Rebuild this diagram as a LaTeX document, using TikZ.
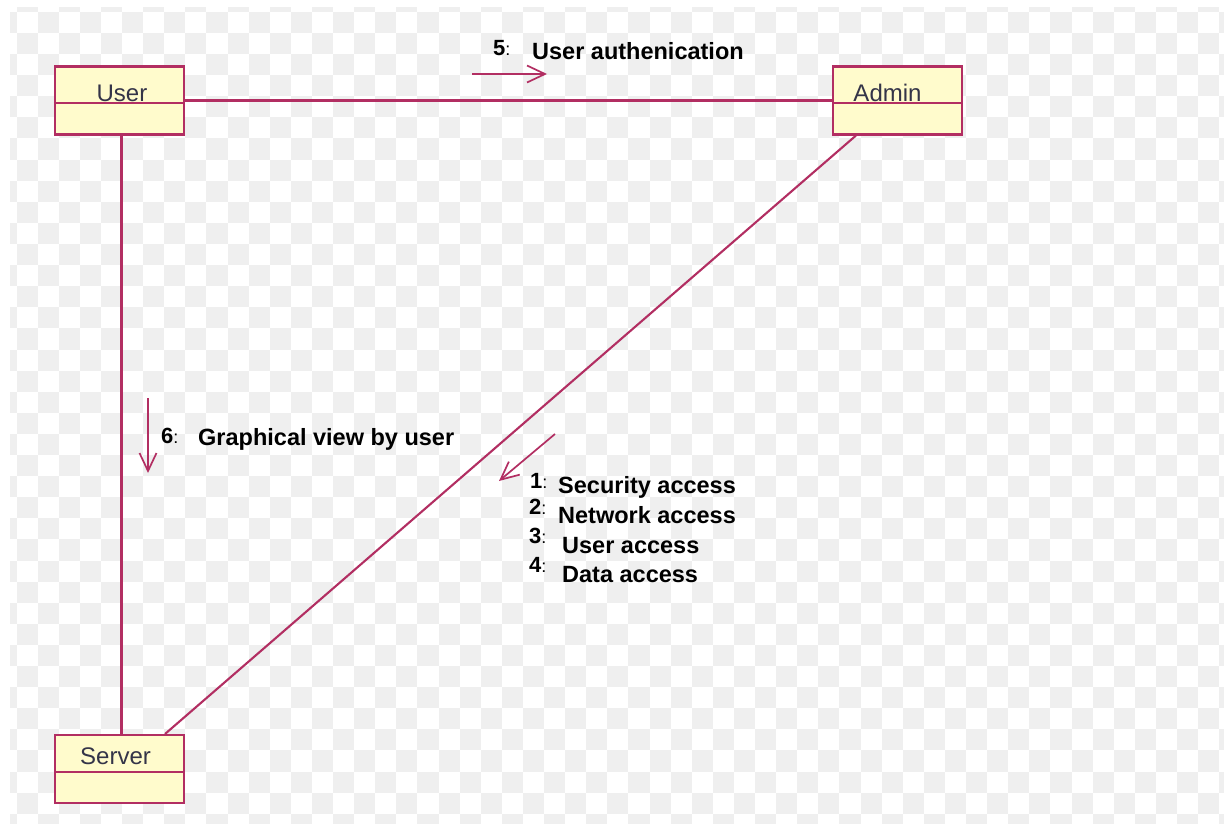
\documentclass[tikz,border=0pt]{standalone}
\usepackage{fontspec}
\setmainfont{Liberation Sans}
\usetikzlibrary{arrows.meta}
\definecolor{umlline}{RGB}{178,46,98}
\definecolor{umlfill}{RGB}{255,251,204}
\definecolor{umltext}{RGB}{52,52,72}
\definecolor{checker}{RGB}{239,239,239}
\newcommand\msgcolon{{\fontsize{18}{20}\selectfont\mdseries:}}
\begin{document}
\begin{tikzpicture}[x=1pt,y=-1pt,
  classbox/.style={rectangle, draw=umlline, fill=umlfill, line width=2.1pt,
    minimum width=129pt, minimum height=68pt, inner sep=0pt},
  divider/.style={draw=umlline, line width=2.1pt},
  classname/.style={font=\fontsize{24}{28}\selectfont, text=umltext, inner sep=0pt, anchor=base},
  link/.style={draw=umlline, line width=2.1pt},
  msgarrow/.style={draw=umlline, line width=1.7pt, -{Straight Barb[length=18pt,width=17pt]}},
  msg/.style={font=\fontsize{23.5}{28}\selectfont\bfseries, inner sep=0pt, anchor=base west},
  seqno/.style={font=\fontsize{22}{24}\selectfont\bfseries, inner sep=0pt, anchor=base west},
]
\useasboundingbox (0,0) rectangle (1224,824);
\fill[white] (0,0) rectangle (1224,824);

% checkered backdrop
\begin{scope}
  \clip (10,8) rectangle (1224,824);
  \foreach \c in {0,...,58}{
    \pgfmathtruncatemacro\roff{1-mod(\c,2)}
    \foreach \k in {0,...,19}{
      \pgfmathsetmacro\xa{-4.6+21.1*\c}
      \pgfmathsetmacro\ya{-9.2+21.1*(2*\k+\roff)}
      \fill[checker] (\xa,\ya) rectangle ++(21.1,21.1);
    }
  }
\end{scope}

% classes
\node[classbox] (user)   at (119.5,100.5) {};
\node[classbox] (admin)  at (897.5,100.5) {};
\node[classbox] (server) at (119.5,769) {};

\draw[divider] ([yshift=-2.5pt]user.west) -- ([yshift=-2.5pt]user.east);
\draw[divider] ([yshift=-2.5pt]admin.west) -- ([yshift=-2.5pt]admin.east);
\draw[divider] ([yshift=-3pt]server.west) -- ([yshift=-3pt]server.east);

\node[classname] (username)   at (122,102)   {User};
\node[classname] (adminname)  at (887.5,102) {Admin};
\node[classname] (servername) at (115.5,764) {Server};

% links
\draw[link] (user.east) -- (admin.west);
\draw[link] ([xshift=2pt]user.south) -- ([xshift=2pt]server.north);
\draw[link] ([xshift=24pt]admin.south west) -- ([xshift=-20pt]server.north east);

% message arrows
\coordinate (m5s) at (472,74);
\coordinate (m5e) at (547,74);
\coordinate (m6s) at (148,398);
\coordinate (m6e) at (148,473);
\coordinate (m1s) at (555,434);
\coordinate (m1e) at (499,481);
\draw[msgarrow] (m5s) -- (m5e);
\draw[msgarrow] (m6s) -- (m6e);
\draw[msgarrow] (m1s) -- (m1e);

% message labels
\node[seqno] (n5) at (493,56)  {5\msgcolon};
\node[msg]   (t5) at (532,60)  {User authenication};
\node[seqno] (n6) at (161,443) {6\msgcolon};
\node[msg]   (t6) at (198,445) {Graphical view by user};
\node[seqno] (n1) at (530,488) {1\msgcolon};
\node[msg]   (t1) at (558,493) {Security access};
\node[seqno] (n2) at (529,514) {2\msgcolon};
\node[msg]   (t2) at (558,523) {Network access};
\node[seqno] (n3) at (529,543) {3\msgcolon};
\node[msg]   (t3) at (562,553) {User access};
\node[seqno] (n4) at (529,572) {4\msgcolon};
\node[msg]   (t4) at (562,582) {Data access};
\end{tikzpicture}
\end{document}
